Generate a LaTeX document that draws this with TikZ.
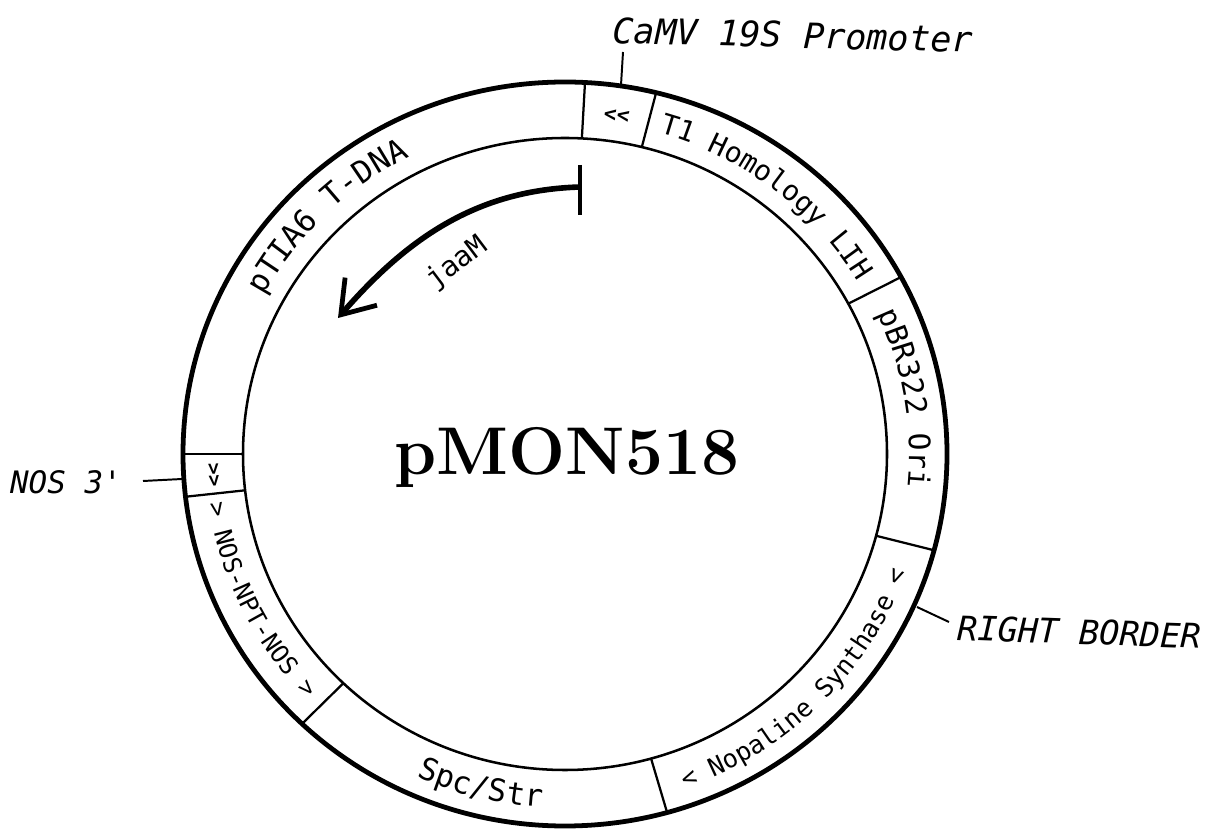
\documentclass[tikz,border=0pt]{standalone}
\usepackage{fontspec}
\setmonofont{DejaVu Sans Mono}
\usetikzlibrary{arrows.meta, decorations.text}

\begin{document}
\begin{tikzpicture}[x=0.025cm, y=0.025cm,
    outerring/.style={line width=3.4pt},
    innerring/.style={line width=1.8pt},
    divider/.style={line width=1.6pt},
    leader/.style={line width=1.4pt},
    plotlabel/.style={font=\ttfamily\itshape\fontsize{25}{25}\selectfont, inner sep=0pt},
    ringlabel/.style 2 args={decorate, decoration={text along path, text align=center,
        text={|\ttfamily\fontsize{#1}{#1}\selectfont|#2}}},
    chevrons/.style 2 args={decorate, decoration={text along path, text align=center,
        text={|\ttfamily\bfseries\fontsize{#1}{#1}\selectfont|#2}}}]
    \useasboundingbox (0,0) rectangle (1208,828);
    \node[font=\bfseries\fontsize{48}{50}\selectfont] (title) at (567,371) {pMON518};
    % outside labels
    \node[plotlabel, rotate=-1.5] (camv) at (793,793) {CaMV 19S Promoter};
    \node[plotlabel, font=\ttfamily\itshape\fontsize{22}{22}\selectfont] (nos) at (66,346) {NOS 3'};
    \node[plotlabel, rotate=-2, font=\ttfamily\itshape\fontsize{24}{24}\selectfont] (border) at (1079,196) {RIGHT BORDER};
    \coordinate (camvend) at (623,776);
    \coordinate (camvring) at (621,743);
    \coordinate (nosend) at (143,347);
    \coordinate (nosring) at (182,349);
    \coordinate (borderend) at (949,206);
    \coordinate (borderring) at (917,221);
    \draw[leader] (camvend) -- (camvring);
    \draw[leader] (nosend) -- (nosring);
    \draw[leader] (borderend) -- (borderring);
    % jaaM gene
    \node[font=\ttfamily\fontsize{20}{20}\selectfont, rotate=37, inner sep=0pt] (gene) at (457,565) {jaaM};
    \coordinate (genestart) at (580,641);
    \coordinate (genetip) at (338,510);
    \draw[line width=4pt, -{Straight Barb[length=22, width=30, line width=3.4pt]}] (genestart) .. controls (480,638) and (410,593) .. (genetip);
    \draw[line width=3.4pt] (580,663) -- (580,613);
    \begin{scope}[shift={(565,374)}]
        \draw[outerring] (0,0) ellipse [x radius=382, y radius=372];
        \draw[innerring] (0,0) ellipse [x radius=322, y radius=316];
        % dividers
        \draw[divider] (87:322 and 316) -- (87:382 and 372);
        \draw[divider] (76.2:322 and 316) -- (76.2:382 and 372);
        \draw[divider] (28.4:322 and 316) -- (28.4:382 and 372);
        \draw[divider] (-15:322 and 316) -- (-15:382 and 372);
        \draw[divider] (-74.5:322 and 316) -- (-74.5:382 and 372);
        \draw[divider] (-133.5:322 and 316) -- (-133.5:382 and 372);
        \draw[divider] (186.6:322 and 316) -- (186.6:382 and 372);
        \draw[divider] (180:322 and 316) -- (180:382 and 372);
        % ring texts
        \path[ringlabel={22}{pTIA6 T-DNA}] (165:342 and 334) arc [start angle=165, end angle=104, x radius=342, y radius=334];
        \path[chevrons={15}{<<}] (95:344 and 336) arc [start angle=95, end angle=68, x radius=344, y radius=336];
        \path[ringlabel={20}{T1 Homology LIH}] (80:342 and 334) arc [start angle=80, end angle=25, x radius=342, y radius=334];
        \path[ringlabel={21}{pBR322 Ori}] (30:344 and 336) arc [start angle=30, end angle=-11, x radius=344, y radius=336];
        \path[ringlabel={18}{< Nopaline Synthase <}] (-80:362 and 354) arc [start angle=-80, end angle=-10, x radius=362, y radius=354];
        \path[ringlabel={22}{Spc/Str}] (-130:362 and 354) arc [start angle=-130, end angle=-78, x radius=362, y radius=354];
        \path[ringlabel={17.5}{> NOS-NPT-NOS >}] (178:360 and 352) arc [start angle=178, end angle=234, x radius=360, y radius=352];
        \path[chevrons={14}{>>}] (172:358 and 350) arc [start angle=172, end angle=195, x radius=358, y radius=350];
    \end{scope}
\end{tikzpicture}
\end{document}
